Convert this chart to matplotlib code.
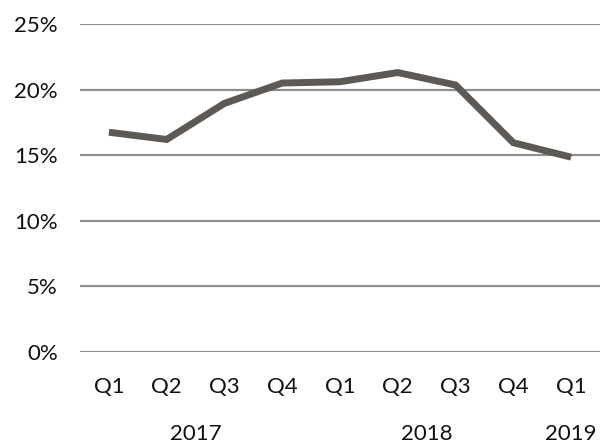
import matplotlib
matplotlib.use("Agg")
import matplotlib.pyplot as plt
from matplotlib.ticker import FuncFormatter

quarters = ["Q1", "Q2", "Q3", "Q4", "Q1", "Q2", "Q3", "Q4", "Q1"]
values = [16.75, 16.2, 18.95, 20.5, 20.6, 21.3, 20.35, 15.95, 14.85]
years = ["2017", "2018", "2019"]
year_pos = [1.5, 5.5, 8]
yticks = [0, 5, 10, 15, 20, 25]

plt.rcParams['font.family'] = ['Lato', 'DejaVu Sans']

fig = plt.figure(figsize=(6, 4.44), dpi=100)
ax = fig.add_axes([80/600, 1-352/444, 1-80/600, (352-24)/444])

x = list(range(len(quarters)))
for t in yticks:
    ax.axhline(t, color="#8e8e8e", lw=1.6, zorder=1)
ax.plot(x, values, color="#5d5955", lw=5, solid_joinstyle="miter", solid_capstyle="butt", zorder=3)

ax.set_xlim(-0.5, len(quarters) - 0.5)
ax.set_ylim(0, 25)
ax.set_yticks(yticks)
ax.yaxis.set_major_formatter(FuncFormatter(lambda v, p: f"{int(v)}%"))
ax.set_xticks(x)
ax.set_xticklabels(quarters)
ax.tick_params(axis="both", length=0, labelsize=16, colors="#111111")
ax.tick_params(axis="y", pad=16)
ax.tick_params(axis="x", pad=18)
for s in ax.spines.values():
    s.set_visible(False)

for yr, p in zip(years, year_pos):
    ax.text(p, -6.25, yr, ha="center", va="center", fontsize=16, color="#111111")

fig.savefig("out.png", dpi=100)
